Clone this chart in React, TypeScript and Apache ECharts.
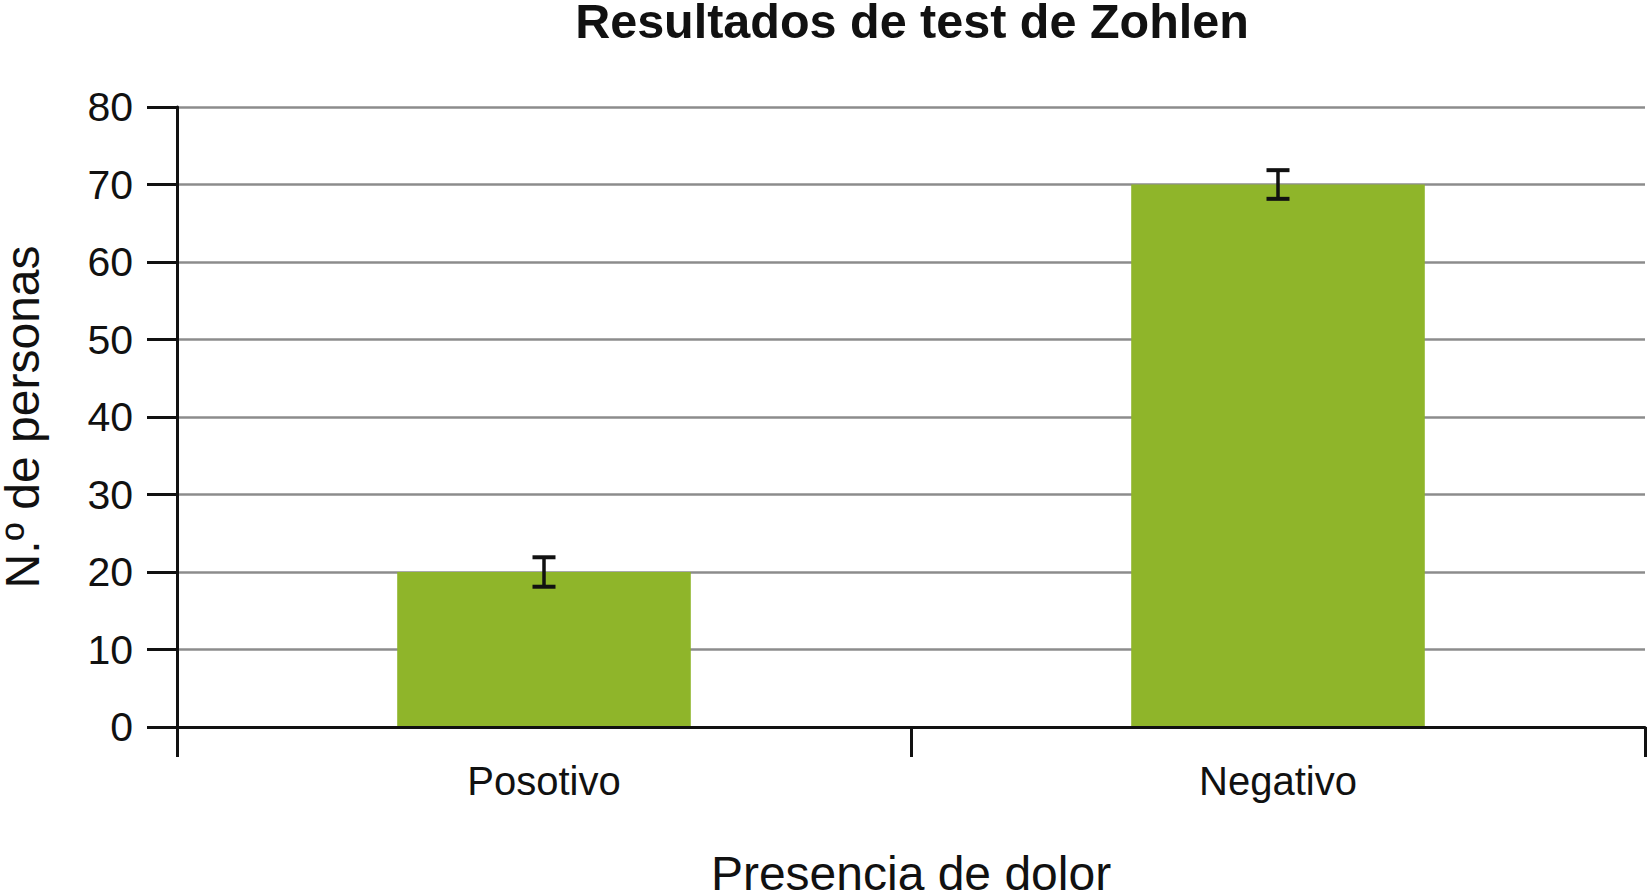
import React, { useEffect, useRef } from "react";
import * as echarts from "echarts";

const titleText = "Resultados de test de Zohlen";
const xName = "Presencia de dolor";
const yName = "N.º de personas";
const categories = ["Posotivo", "Negativo"];
const values = [20, 70];
const errors = [1.9, 1.85];
const yMin = 0;
const yMax = 80;
const yInterval = 10;

const FONT = "'Liberation Sans', Arial, Helvetica, sans-serif";

export default function App() {
  const ref = useRef<HTMLDivElement>(null);
  useEffect(() => {
    const chart = echarts.init(ref.current!, null, { renderer: "svg" });
    const errData = values.map((v, i) => [i, v - errors[i], v + errors[i]]);
    chart.setOption({
      animation: false,
      backgroundColor: "#ffffff",
      title: {
        text: titleText,
        left: 912,
        top: -4,
        textAlign: "center",
        padding: 0,
        textStyle: { fontFamily: FONT, fontWeight: "bold", fontSize: 48.5, color: "#111111" },
      },
      grid: {
        left: 177,
        right: 2,
        top: 107,
        bottom: 165,
        containLabel: false,
        outerBoundsMode: "none",
      },
      xAxis: {
        type: "category",
        data: categories,
        z: 5,
        axisLine: { show: true, lineStyle: { color: "#111111", width: 3 } },
        axisTick: { show: true, length: 30, lineStyle: { color: "#111111", width: 3 } },
        axisLabel: { margin: 34, fontSize: 40, color: "#111111", fontFamily: FONT },
        splitLine: { show: false },
        name: xName,
        nameLocation: "middle",
        nameGap: 122,
        nameTextStyle: { fontSize: 48, color: "#111111", fontFamily: FONT },
      },
      yAxis: {
        type: "value",
        min: yMin,
        max: yMax,
        interval: yInterval,
        axisLine: { show: true, lineStyle: { color: "#111111", width: 3 } },
        axisTick: { show: true, length: 30, lineStyle: { color: "#111111", width: 3 } },
        axisLabel: { margin: 44, fontSize: 41, color: "#111111", fontFamily: FONT },
        splitLine: { show: true, lineStyle: { color: "#8c8c8c", width: 2.5 } },
        name: yName,
        nameLocation: "middle",
        nameGap: 131,
        nameTextStyle: { fontSize: 48, color: "#111111", fontFamily: FONT },
      },
      series: [
        {
          type: "bar",
          data: values,
          barWidth: "40%",
          itemStyle: { color: "#8fb52a" },
        },
        {
          type: "custom",
          data: errData,
          z: 10,
          renderItem: (params: any, api: any) => {
            const idx = api.value(0);
            const lo = api.coord([idx, api.value(1)]);
            const hi = api.coord([idx, api.value(2)]);
            const hw = 11.5;
            const st = { stroke: "#111111", lineWidth: 4 };
            return {
              type: "group",
              children: [
                { type: "line", shape: { x1: hi[0], y1: hi[1], x2: lo[0], y2: lo[1] }, style: { stroke: "#111111", lineWidth: 3.5 } },
                { type: "line", shape: { x1: hi[0] - hw, y1: hi[1], x2: hi[0] + hw, y2: hi[1] }, style: st },
                { type: "line", shape: { x1: lo[0] - hw, y1: lo[1], x2: lo[0] + hw, y2: lo[1] }, style: st },
              ],
            };
          },
        },
      ],
    });
    return () => chart.dispose();
  }, []);
  return (
    <div
      ref={ref}
      style={{ position: "fixed", left: 0, top: 0, width: 1647, height: 892, background: "#fff" }}
    />
  );
}
